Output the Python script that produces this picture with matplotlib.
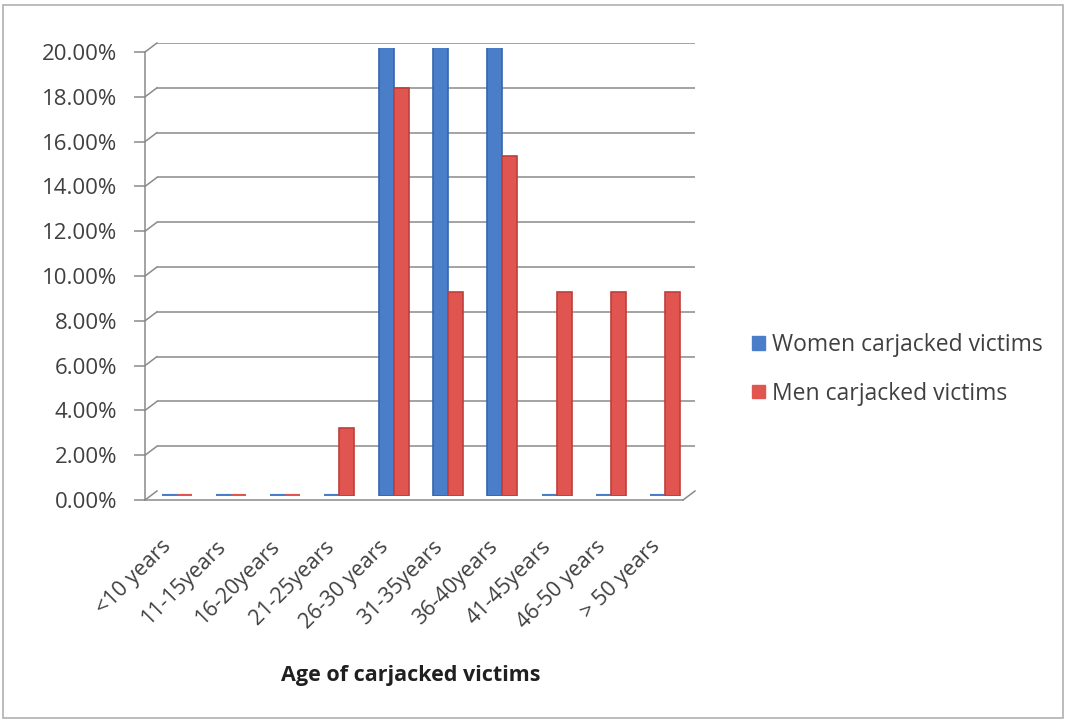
import matplotlib
matplotlib.use("Agg")
import matplotlib.pyplot as plt
from matplotlib.patches import Patch, Rectangle
from matplotlib.lines import Line2D
import matplotlib.transforms as mtransforms

categories = ["<10 years", "11-15years", "16-20years", "21-25years", "26-30 years",
              "31-35years", "36-40years", "41-45years", "46-50 years", "> 50 years"]
women = [0, 0, 0, 0, 20.0, 20.0, 20.0, 0, 0, 0]
men = [0, 0, 0, 3.03, 18.18, 9.09, 15.15, 9.09, 9.09, 9.09]
yticks = [0, 2, 4, 6, 8, 10, 12, 14, 16, 18, 20]
series_names = ["Women carjacked victims", "Men carjacked victims"]

BLUE = "#4A7EC8"
BLUE_E = "#3565AE"
RED = "#E05550"
RED_E = "#BF3F3B"
GRID = "#8a8a8a"
TXT = "#404040"
FONT = "Open Sans"

W, H = 1066, 725
fig = plt.figure(figsize=(W / 100, H / 100), dpi=100)
fig.patch.set_facecolor("white")


def rect(left, top, right, bottom):
    return [left / W, (H - bottom) / H, (right - left) / W, (bottom - top) / H]


# back (gridlines), middle (bars), front (axis + ticks)
ax_back = fig.add_axes(rect(157, 43, 695, 491))
ax = fig.add_axes(rect(151, 47.5, 689, 495.5))
ax_front = fig.add_axes(rect(145, 52, 683, 500))

for a in (ax_back, ax, ax_front):
    a.set_ylim(0, 20)
    a.set_xlim(-0.47, 9.44)
    a.patch.set_alpha(0)
    for s in a.spines.values():
        s.set_visible(False)
    a.set_xticks([])
    a.set_yticks([])

ax_back.set_zorder(0)
ax.set_zorder(2)
ax_front.set_zorder(1)

# gridlines on back plane
for v in yticks[1:]:
    ax_back.axhline(v, color=GRID, lw=1.1, xmin=0, xmax=1, zorder=0)

# front axis
ax_front.spines["left"].set_visible(True)
ax_front.spines["bottom"].set_visible(True)
ax_front.spines["left"].set_color(GRID)
ax_front.spines["bottom"].set_color(GRID)
ax_front.spines["left"].set_linewidth(1.1)
ax_front.spines["bottom"].set_linewidth(1.1)
ax_front.set_yticks(yticks)
ax_front.set_yticklabels([f"{v:.2f}%" for v in yticks], fontsize=16, color=TXT, family=FONT)
ax_front.tick_params(axis="y", length=8, color=GRID, width=1.1, pad=12)

# diagonal connectors (3D depth)
fig.canvas.draw()
tf = ax_front.get_yaxis_transform()
tb = ax_back.get_yaxis_transform()
for v in yticks:
    p0 = tf.transform((0, v))
    p1 = tb.transform((0, v))
    fig.add_artist(Line2D([p0[0], p1[0]], [p0[1], p1[1]], transform=None, color=GRID, lw=1.1))
# right floor edge
p0 = ax_front.transAxes.transform((1, 0))
p1 = ax_back.transAxes.transform((1, 0))
fig.add_artist(Line2D([p0[0], p1[0]], [p0[1], p1[1]], transform=None, color=GRID, lw=1.1))

# bars
x = list(range(len(categories)))
bw = 15 / 54.3
bars_w = ax.bar([i - bw / 2 for i in x], women, width=bw, color=BLUE, edgecolor=BLUE_E, linewidth=1.2, zorder=3)
bars_m = ax.bar([i + bw / 2 for i in x], men, width=bw, color=RED, edgecolor=RED_E, linewidth=1.2, zorder=3)
for b in list(bars_w) + list(bars_m):
    if b.get_height() == 0:
        b.set_linewidth(3)
        b.set_edgecolor(b.get_facecolor())

# category labels
trans = mtransforms.blended_transform_factory(ax.transData, ax.transAxes)
for i, lab in enumerate(categories):
    ax.text(i - 0.15, -48 / 448, lab, transform=trans, rotation=45, rotation_mode="anchor",
            ha="right", va="center", fontsize=15.5, color=TXT, family=FONT, clip_on=False)

fig.text(411 / W, 1 - 675 / H, "Age of carjacked victims", ha="center", va="center",
         fontsize=15.5, fontweight="bold", color="#202020", family=FONT)

handles = [Patch(facecolor=BLUE, edgecolor=BLUE), Patch(facecolor=RED, edgecolor=RED)]
fig.legend(handles, series_names, loc="upper left", bbox_to_anchor=(741 / W, 1 - 322 / H),
           frameon=False, handlelength=0.55, handleheight=0.55, handletextpad=0.3,
           labelspacing=1.05, prop={"family": FONT, "size": 16.5}, labelcolor=TXT, borderpad=0)

# outer frame
fig.add_artist(Rectangle((3 / W, 1 - 718 / H), 1060 / W, 713 / H, transform=fig.transFigure,
                         fill=False, edgecolor="#b0b0b0", lw=1.2))

fig.savefig("out.png", dpi=100)
